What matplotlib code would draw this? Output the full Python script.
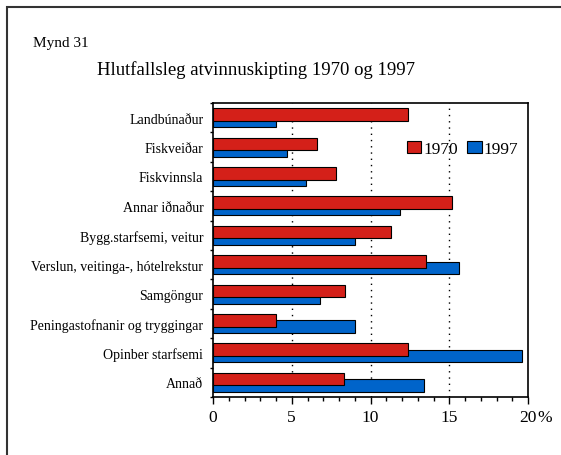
import numpy as np
import matplotlib
matplotlib.use("Agg")
import matplotlib.pyplot as plt
from matplotlib.patches import Patch, Rectangle
from matplotlib.ticker import MultipleLocator

plt.rcParams['font.family'] = ['Liberation Serif', 'DejaVu Serif']

# Data (percent of workforce)
categories = ["Landbúnaður", "Fiskveiðar", "Fiskvinnsla", "Annar iðnaður",
              "Bygg.starfsemi, veitur", "Verslun, veitinga-, hótelrekstur",
              "Samgöngur", "Peningastofnanir og tryggingar",
              "Opinber starfsemi", "Annað"]
share_1970 = [12.4, 6.6, 7.8, 15.2, 11.3, 13.5, 8.4, 4.0, 12.4, 8.3]
share_1997 = [4.0, 4.7, 5.9, 11.9, 9.0, 15.6, 6.8, 9.0, 19.6, 13.4]
xticks = [0, 5, 10, 15, 20]

red = '#D42019'
blue = '#0064CA'

fig = plt.figure(figsize=(5.61, 4.56), dpi=100)

# outer frame of the figure (left and top edges visible)
fig.patches.append(Rectangle((7/561, -0.1), 1.2, 1 - 8/456 + 0.1,
                             transform=fig.transFigure, fill=False,
                             edgecolor='#333333', linewidth=1.5))

ax = fig.add_axes([213/561, 1 - 398/456, 315/561, 294/456])

y = np.arange(len(categories))
h = 0.43
ax.barh(y + 0.11, share_1997, height=h, color=blue, edgecolor='black',
        linewidth=0.8, zorder=2)
ax.barh(y - 0.11, share_1970, height=h, color=red, edgecolor='black',
        linewidth=0.8, zorder=3)

ax.set_xlim(0, 20)
ax.set_ylim(len(categories) - 0.5, -0.5)

# dotted gridlines
for g in xticks[1:-1]:
    ax.axvline(g, color='black', linestyle=(0, (1, 3.5)), linewidth=1.0, zorder=1)

ax.set_xticks(xticks)
ax.set_xticklabels([str(t) for t in xticks])
ax.xaxis.set_minor_locator(MultipleLocator(1))
ax.tick_params(axis='x', which='major', length=5, width=1, pad=4, labelsize=12.5)
ax.tick_params(axis='x', which='minor', length=3, width=1)
# percent sign right after the last tick label
ax.annotate("%", xy=(20, 0), xycoords=('data', 'axes fraction'),
            xytext=(9, -12.5), textcoords='offset pixels', fontsize=12.5,
            ha='left', va='top')

ax.set_yticks(y)
ax.set_yticklabels(categories)
ax.set_yticks(np.arange(-0.5, len(categories)), minor=True)
ax.tick_params(axis='y', which='major', length=0, pad=7, labelsize=10)
ax.tick_params(axis='y', which='minor', length=2.5, width=1)

for s in ax.spines.values():
    s.set_linewidth(1.2)

handles = [Patch(facecolor=red, edgecolor='black', linewidth=0.8, label='1970'),
           Patch(facecolor=blue, edgecolor='black', linewidth=0.8, label='1997')]
fig.legend(handles=handles, loc='center left', bbox_to_anchor=(398/561, 1 - 150/456),
           ncol=2, frameon=False, fontsize=12.5, handlelength=0.85, handleheight=0.65,
           handletextpad=0.1, columnspacing=0.55, borderpad=0)

fig.text(33/561, 1 - 44/456, "Mynd 31", fontsize=11, ha='left', va='center')
fig.text(97/561, 1 - 70/456, "Hlutfallsleg atvinnuskipting 1970 og 1997",
         fontsize=13.5, ha='left', va='center')

fig.savefig("out.png", dpi=100)
